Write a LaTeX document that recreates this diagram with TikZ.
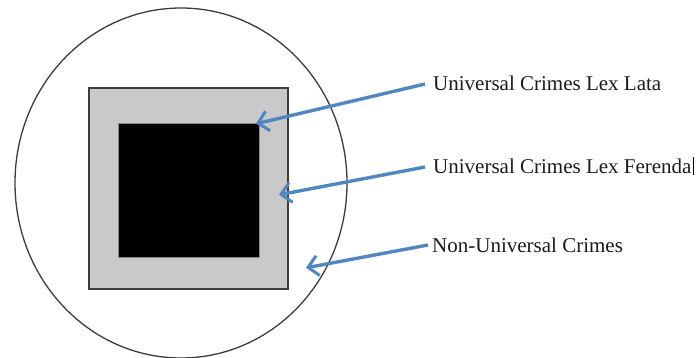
\documentclass[tikz,border=0pt]{standalone}
\usepackage{fontspec}
\setmainfont{Liberation Serif}
\usetikzlibrary{arrows.meta,shapes.geometric}
\definecolor{arrowblue}{HTML}{5187C0}
\definecolor{boxgray}{HTML}{C9C9C9}
\definecolor{edgegray}{HTML}{3C3C3C}
\definecolor{txt}{HTML}{1A1A24}
\tikzset{
  pointer/.style={draw=arrowblue, line width=3.4pt, -{Straight Barb[length=10pt,width=20pt,line width=3pt]}, shorten >=1pt},
  lbl/.style={anchor=west, inner sep=0pt, text=txt, font=\fontsize{21}{25}\selectfont},
}
\begin{document}
\begin{tikzpicture}[x=1pt,y=-1pt]
\useasboundingbox (0,0) rectangle (700,358);
% outer ellipse
\node[draw=edgegray, line width=1.3pt, ellipse, minimum width=332pt, minimum height=350pt, inner sep=0pt] (outer) at (181,183) {};
% gray square
\node[draw=edgegray, fill=boxgray, line width=1.2pt, minimum width=199pt, minimum height=201pt, inner sep=0pt] (ferenda) at (188.5,188.5) {};
% black square
\node[draw=edgegray!60, fill=black, line width=0.6pt, minimum width=141pt, minimum height=134pt, inner sep=0pt] (lata) at (188.5,190) {};
% labels
\node[lbl] (tlata) at (433,83) {Universal Crimes Lex Lata};
\node[lbl] (tferenda) at (433,166) {Universal Crimes Lex Ferenda};
\node[lbl] (tnon) at (432,245) {Non-Universal Crimes};
\draw[line width=0.6pt, black] ([xshift=2pt]tferenda.east) ++(0,-9) -- ++(0,18);
% arrow tips
\coordinate (plata) at (255,124);
\coordinate (pferenda) at (278,195);
\coordinate (pnon) at (305,268);
\draw[pointer] (tlata.west) ++(-8,1) coordinate (a1) (a1) -- (plata);
\draw[pointer] (tferenda.west) ++(-8,1) coordinate (a2) (a2) -- (pferenda);
\draw[pointer] (tnon.west) ++(-4,0) coordinate (a3) (a3) -- (pnon);
\end{tikzpicture}
\end{document}
